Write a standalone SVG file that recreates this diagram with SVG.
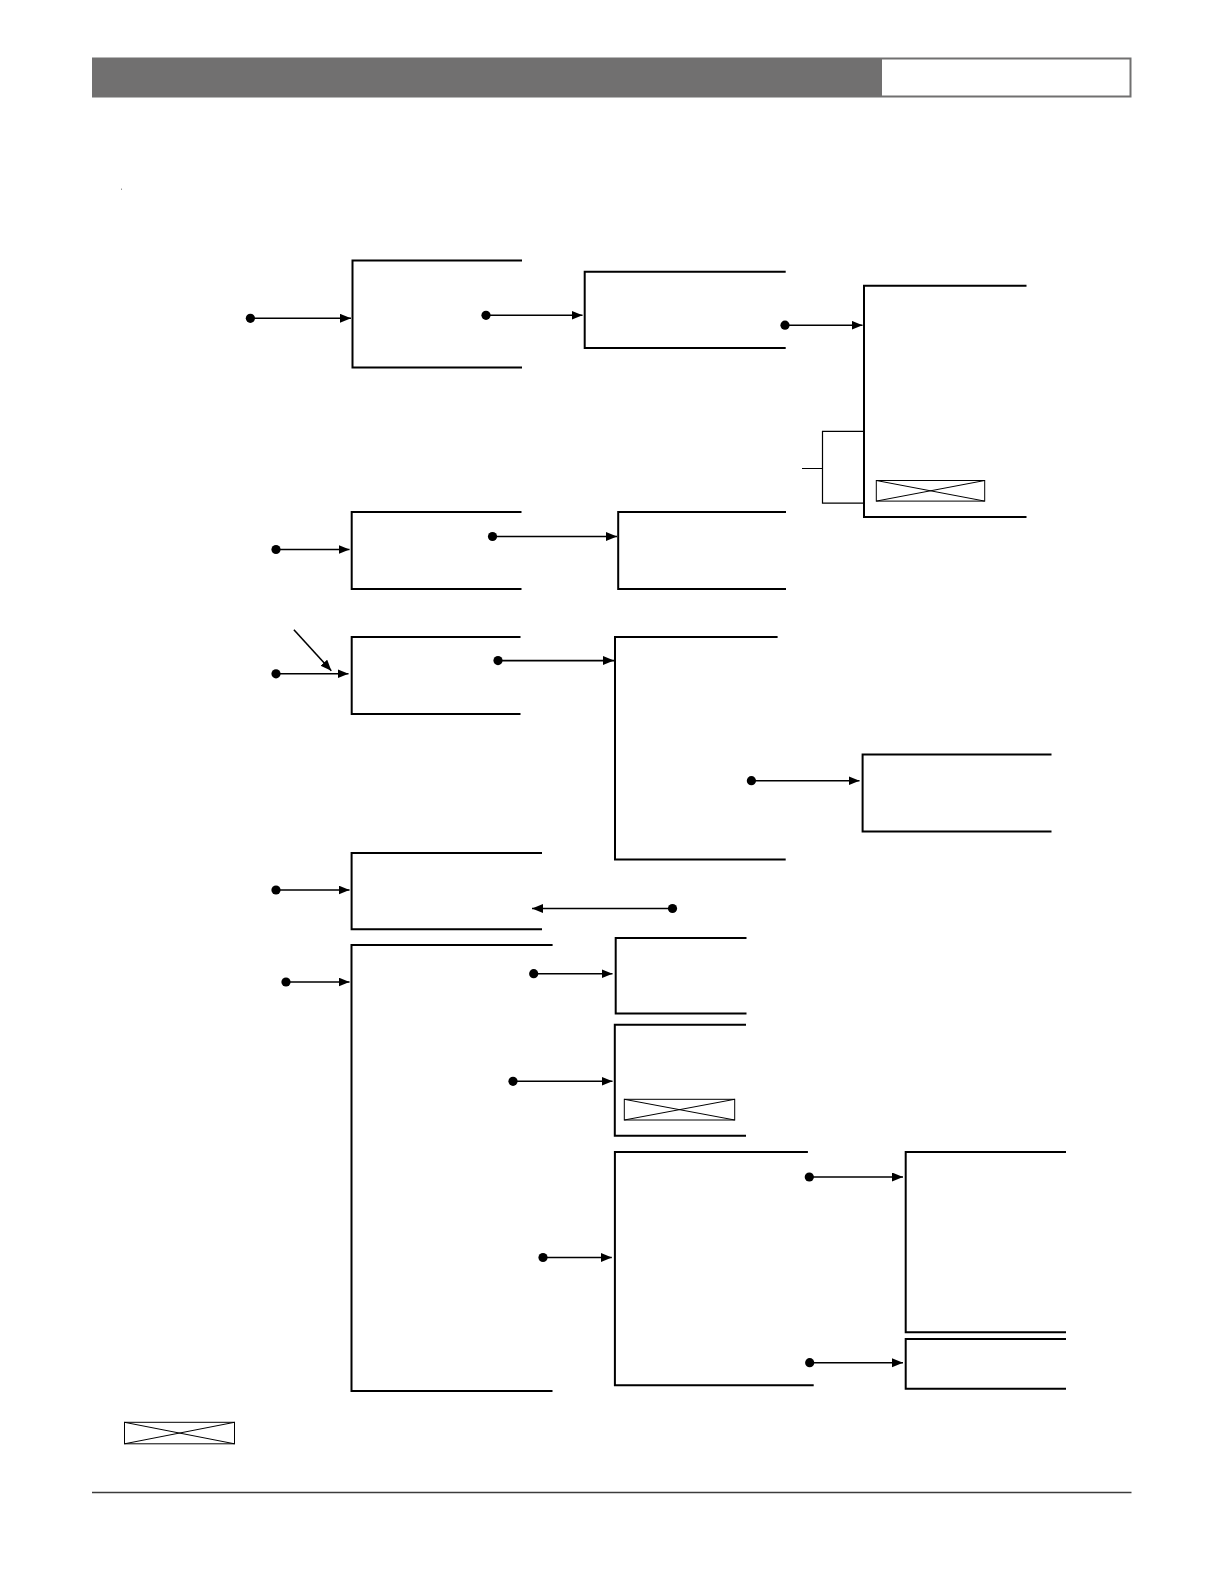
<svg xmlns="http://www.w3.org/2000/svg" width="1224" height="1584" viewBox="0 0 1224 1584">
<style>
.box{fill:none;stroke:#000;stroke-width:2}
.xbox{fill:none;stroke:#000;stroke-width:1}
.con{fill:none;stroke:#000;stroke-width:1.6}
.dot{fill:#000}
</style>
<defs>
<marker id="ah" markerUnits="userSpaceOnUse" markerWidth="12" markerHeight="10" refX="11" refY="4.5" orient="auto">
<path d="M0,0 L11,4.5 L0,9 z" fill="#000"/>
</marker>
</defs>
<rect width="1224" height="1584" fill="#fff"/>
<g id="header">
<rect x="92" y="57.5" width="1039.5" height="40" fill="#717070"/>
<rect x="882" y="59.5" width="247.5" height="36" fill="#fff"/>
</g>
<rect x="121" y="188.5" width="1" height="1.5" fill="#999"/>
<g id="nodeA"><path class="box" d="M522,260.5 H352.5 V367.5 H522"/></g>
<g id="nodeB"><path class="box" d="M785.7,271.7 H584.7 V348 H785.7"/></g>
<g id="nodeC"><path class="box" d="M1026.5,285.8 H864 V517 H1026.5"/>
<rect class="xbox" x="876.3" y="480.5" width="108.4" height="20.6"/>
<path class="xbox" d="M876.3,480.5 L984.7,501.1 M876.3,501.1 L984.7,480.5"/></g>
<g id="bracket"><path fill="none" stroke="#000" stroke-width="1.2" d="M802,468.5 H822.5 M863.5,431.3 H822.5 V503.2 H863.5"/></g>
<g id="nodeD"><path class="box" d="M521.5,512 H351.7 V589 H521.5"/></g>
<g id="nodeE"><path class="box" d="M786,512 H618.2 V589 H786"/></g>
<g id="nodeF"><path class="box" d="M520.5,637 H351.7 V714 H520.5"/></g>
<g id="nodeG"><path class="box" d="M777.6,637 H615 V859.5 H785.7"/></g>
<g id="nodeH"><path class="box" d="M1051.5,754.5 H862.6 V831.4 H1051.5"/></g>
<g id="nodeI"><path class="box" d="M542,853 H351.6 V929.2 H542"/></g>
<g id="nodeJ"><path class="box" d="M552.6,945 H351.5 V1391 H552.5"/></g>
<g id="nodeK"><path class="box" d="M746.5,938 H615.7 V1013.5 H746.5"/></g>
<g id="nodeL"><path class="box" d="M746,1024.7 H614.8 V1135.7 H746"/>
<rect class="xbox" x="624.3" y="1099.3" width="110.4" height="20.7"/>
<path class="xbox" d="M624.3,1099.3 L734.7,1120 M624.3,1120 L734.7,1099.3"/></g>
<g id="nodeM"><path class="box" d="M807.9,1152 H614.9 V1385.3 H813.7"/></g>
<g id="nodeN"><path class="box" d="M1066,1152 H905.7 V1332.3 H1066"/></g>
<g id="nodeO"><path class="box" d="M1066,1339 H905.7 V1388.7 H1066"/></g>
<g id="legend">
<rect class="xbox" x="124.5" y="1422.3" width="110" height="21.5" stroke-width="1.5"/>
<path class="xbox" d="M124.5,1422.3 L234.5,1443.8 M124.5,1443.8 L234.5,1422.3"/>
</g>
<g id="connectors">
<circle class="dot" cx="250.4" cy="318.3" r="4.6"/><path class="con" d="M250.4,318.3 H351" marker-end="url(#ah)"/>
<circle class="dot" cx="486" cy="315.3" r="4.6"/><path class="con" d="M486,315.3 H582.5" marker-end="url(#ah)"/>
<circle class="dot" cx="785" cy="325.2" r="4.6"/><path class="con" d="M785,325.2 H862.5" marker-end="url(#ah)"/>
<circle class="dot" cx="276" cy="549.5" r="4.6"/><path class="con" d="M276,549.5 H349.5" marker-end="url(#ah)"/>
<circle class="dot" cx="492.5" cy="536.5" r="4.6"/><path class="con" d="M492.5,536.5 H617" marker-end="url(#ah)"/>
<circle class="dot" cx="276" cy="673.8" r="4.6"/><path class="con" d="M276,673.8 H348.5" marker-end="url(#ah)"/>
<path class="con" d="M293.9,629.8 L331.3,670.8" marker-end="url(#ah)"/>
<circle class="dot" cx="498" cy="660.6" r="4.6"/><path class="con" d="M498,660.6 H614" marker-end="url(#ah)"/>
<circle class="dot" cx="751.4" cy="780.7" r="4.6"/><path class="con" d="M751.4,780.7 H859.5" marker-end="url(#ah)"/>
<circle class="dot" cx="276" cy="890" r="4.6"/><path class="con" d="M276,890 H349.5" marker-end="url(#ah)"/>
<circle class="dot" cx="672.5" cy="908.5" r="4.6"/><path class="con" d="M672.5,908.5 H532" marker-end="url(#ah)"/>
<circle class="dot" cx="286" cy="982" r="4.6"/><path class="con" d="M286,982 H349.5" marker-end="url(#ah)"/>
<circle class="dot" cx="533.7" cy="973.7" r="4.6"/><path class="con" d="M533.7,973.7 H612.5" marker-end="url(#ah)"/>
<circle class="dot" cx="513" cy="1081.3" r="4.6"/><path class="con" d="M513,1081.3 H612.5" marker-end="url(#ah)"/>
<circle class="dot" cx="543" cy="1257.5" r="4.6"/><path class="con" d="M543,1257.5 H611.8" marker-end="url(#ah)"/>
<circle class="dot" cx="809.3" cy="1177" r="4.6"/><path class="con" d="M809.3,1177 H903" marker-end="url(#ah)"/>
<circle class="dot" cx="809.7" cy="1362.7" r="4.6"/><path class="con" d="M809.7,1362.7 H903" marker-end="url(#ah)"/>
</g>
<g id="footer"><path d="M92,1492.5 H1131.5" stroke="#3c3c3c" stroke-width="1.3" fill="none"/></g>
</svg>
